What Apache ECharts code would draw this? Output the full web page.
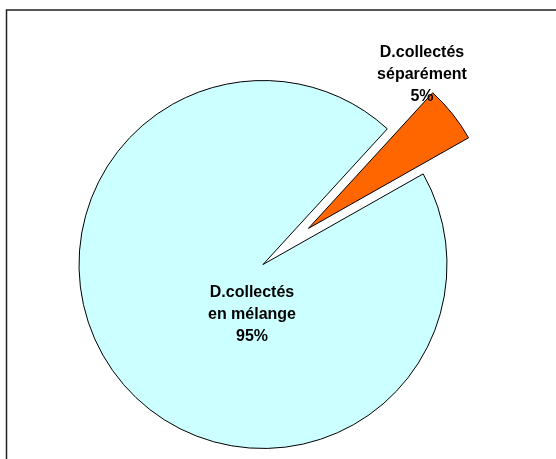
<!DOCTYPE html>
<html>
<head>
<meta charset="utf-8">
<script src="https://cdn.jsdelivr.net/npm/echarts@6/dist/echarts.min.js"></script>
<style>
  html, body { margin: 0; padding: 0; background: #fff; }
  #main { width: 556px; height: 459px; }
</style>
</head>
<body>
<div id="main"></div>
<script>
// données du graphique
let names = ['D.collectés\nséparément', 'D.collectés\nen mélange']
let values = [5, 95]
let colors = ['#FF6600', '#CCFFFF']

// part détachée (index 0) dessinée dans une 2e série décalée
let explodeIndex = 0
let pieCenter = [263, 264.5]
let explodeCenter = [308.4, 228.4]

// position des étiquettes (px)
let labelPos = [[422, 75], [252, 315]]

let myChart = echarts.init(document.getElementById('main'))

// shown = la part est visible dans cette série
let makeData = showFn => names.map((name, i) => {
    let shown = showFn(i)
    return {
        name: name,
        value: values[i],
        itemStyle: shown
            ? { color: colors[i], borderColor: '#000', borderWidth: 1 }
            : { color: 'rgba(0,0,0,0)', borderWidth: 0 },
        label: { show: shown }
    }
})

let baseSeries = {
    type: 'pie',
    radius: 184,
    startAngle: 47.5,
    clockwise: true,
    silent: true,
    emphasis: { disabled: true },
    label: {
        position: 'inside',
        formatter: p => p.name + '\n' + p.value + '%',
        fontFamily: 'Liberation Sans, Arial, sans-serif',
        fontWeight: 'bold',
        fontSize: 16,
        lineHeight: 22,
        color: '#000',
        align: 'center'
    },
    labelLine: { show: false },
    labelLayout: params => {
        let p = labelPos[params.dataIndex]
        return { x: p[0], y: p[1], align: 'center', verticalAlign: 'middle' }
    }
}

myChart.setOption({
    animation: false,
    graphic: [
        {
            type: 'rect',
            shape: { x: 6.5, y: 10, width: 600, height: 500 },
            style: { fill: 'none', stroke: '#222', lineWidth: 1.5 },
            z: -1
        }
    ],
    series: [
        Object.assign({}, baseSeries, {
            center: pieCenter,
            data: makeData(i => i !== explodeIndex)
        }),
        Object.assign({}, baseSeries, {
            center: explodeCenter,
            data: makeData(i => i === explodeIndex)
        })
    ]
})
</script>
</body>
</html>
